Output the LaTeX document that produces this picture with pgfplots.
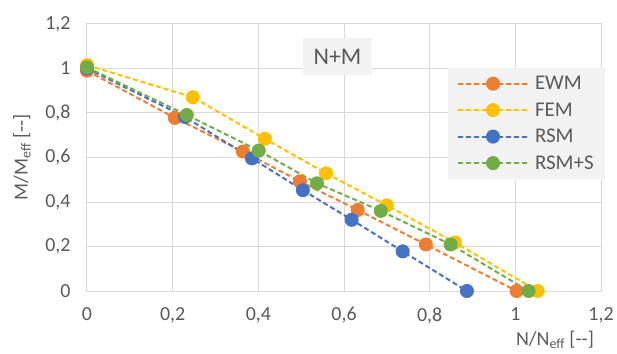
\documentclass[border=0pt]{standalone}
\usepackage{fontspec}
\setmainfont{Carlito}
\usepackage{pgfplots}
\pgfplotsset{compat=1.18}
\definecolor{cO}{HTML}{ED7D31}
\definecolor{cY}{HTML}{FFC000}
\definecolor{cB}{HTML}{4472C4}
\definecolor{cG}{HTML}{70AD47}
\definecolor{gridc}{HTML}{D9D9D9}
\definecolor{txt}{HTML}{595959}
\definecolor{boxc}{HTML}{F2F2F2}
\begin{document}
\begin{tikzpicture}
\useasboundingbox (-87bp,-63bp) rectangle (530bp,291bp);
\begin{axis}[
  at={(0,0)}, anchor=south west,
  scale only axis, width=514bp, height=267bp,
  xmin=0, xmax=1.2, ymin=0, ymax=1.2,
  xtick={0,0.2,0.4,0.6,0.8,1,1.2},
  ytick={0,0.2,0.4,0.6,0.8,1,1.2},
  grid=major,
  grid style={color=gridc, line width=1bp},
  axis line style={color=gridc, line width=1bp},
  major tick length=0pt,
  ticklabel style={font=\fontsize{20}{22}\selectfont, text=txt},
  xticklabel style={yshift=-13bp},
  yticklabel style={xshift=-13bp},
  /pgf/number format/.cd, use comma, assume math mode=true,
  /pgfplots/.cd,
  xlabel={N/N\textsubscript{eff} [-{}-]},
  ylabel={M/M\textsubscript{eff} [-{}-]},
  every axis x label/.style={at={(rel axis cs:0.9105,-0.1835)}, anchor=center, font=\fontsize{20}{22}\selectfont, text=txt},
  every axis y label/.style={at={(rel axis cs:-0.1265,0.5)}, anchor=center, rotate=90, font=\fontsize{20}{22}\selectfont, text=txt},
  legend style={at={(rel axis cs:0.702,0.835)}, anchor=north west, fill=boxc, draw=none,
    font=\fontsize{21}{23}\selectfont, text=txt, row sep=7.5bp, column sep=4bp, inner xsep=9bp, inner ysep=6bp},
  legend cell align=left,
  legend image code/.code={\draw[mark repeat=2,mark phase=2,#1] plot coordinates {(0bp,0bp) (35bp,0bp) (70bp,0bp)};},
  every axis plot/.append style={line width=2bp, dash pattern=on 5bp off 3bp, mark=*, mark size=6bp, mark options={solid}},
]
\addplot[color=cO] coordinates {(0,0.99) (0.205,0.778) (0.364,0.627) (0.497,0.493) (0.632,0.364) (0.791,0.209) (1.003,0.0)};
\addlegendentry{EWM}
\addplot[color=cY] coordinates {(0,1.015) (0.247,0.871) (0.415,0.684) (0.558,0.529) (0.700,0.385) (0.859,0.218) (1.052,0.0)};
\addlegendentry{FEM}
\addplot[color=cB] coordinates {(0,1.0) (0.229,0.782) (0.385,0.596) (0.504,0.453) (0.618,0.320) (0.737,0.178) (0.887,0.0)};
\addlegendentry{RSM}
\addplot[color=cG] coordinates {(0,1.005) (0.233,0.791) (0.401,0.631) (0.537,0.484) (0.686,0.360) (0.849,0.209) (1.031,0.0)};
\addlegendentry{RSM+S}
\node[fill=boxc, text=txt, font=\fontsize{24}{26}\selectfont, minimum width=69bp, minimum height=37bp, inner sep=0pt] at (axis cs:0.5848,1.054) {N+M};
\end{axis}
\end{tikzpicture}
\end{document}
